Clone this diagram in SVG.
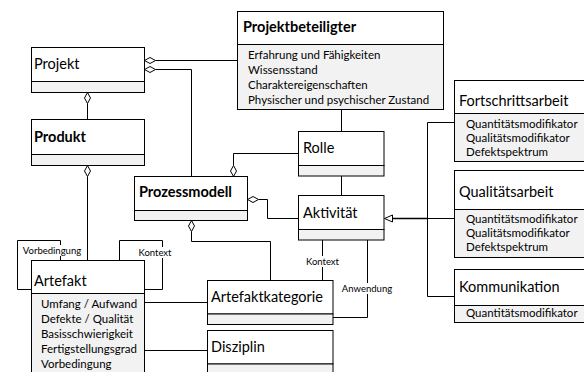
<svg xmlns="http://www.w3.org/2000/svg" width="584" height="372" viewBox="0 0 584 372">
<style>
.hd{fill:#fff;stroke:#000;stroke-width:1}
.at{fill:#f2f2f2;stroke:#000;stroke-width:1}
.t{font-family:Lato,"Liberation Sans",sans-serif;font-size:14.5px;fill:#000}
.b{font-family:Lato,"Liberation Sans",sans-serif;font-size:14.5px;font-weight:bold;fill:#000}
.a{font-family:Lato,"Liberation Sans",sans-serif;font-size:11.5px;fill:#000}
.l{font-family:Lato,"Liberation Sans",sans-serif;font-size:9.5px;fill:#000;text-anchor:middle}
.c{fill:none;stroke:#000;stroke-width:1}
.d{fill:#fff;stroke:#000;stroke-width:1}
.lb{fill:#fff;stroke:none}
</style>
<rect width="584" height="372" fill="#fff"/>
<g id="connectors">
<path class="c" d="M155.5,60.5H237.5"/>
<path class="c" d="M155.5,69.5H191.5V176.5"/>
<path class="c" d="M87.5,103.5V119.5"/>
<path class="c" d="M87.5,176.5V260.5"/>
<path class="c" d="M233.5,165.5V153.5H298.5"/>
<path class="c" d="M258.5,199.5H267.5V218.5H298.5"/>
<path class="c" d="M191.5,231.5V241.5H270.5V280"/>
<path class="c" d="M341.5,109.5V131.5"/>
<path class="c" d="M341.5,176V195.5"/>
<path class="c" d="M322.5,240V280"/>
<path class="c" d="M367.5,240V317.5H333"/>
<path class="c" d="M144.5,302.5H207"/>
<path class="c" d="M144.5,350.5H207"/>
<path class="c" d="M454.5,122.5H427.5V296.5H454.5"/>
<path class="c" d="M454.5,218.5H427.5"/>
<path class="c" style="stroke-width:1.6" d="M427.5,218.5H392"/>
<polygon class="d" points="384.5,218.5 392.5,215 392.5,222"/>
<polygon class="d" points="144.5,60.5 150,57.5 155.5,60.5 150,63.5"/>
<polygon class="d" points="144.5,69.5 150,66.5 155.5,69.5 150,72.5"/>
<polygon class="d" points="87.5,92.5 90.5,98 87.5,103.5 84.5,98"/>
<polygon class="d" points="87.5,165.5 90.5,171 87.5,176.5 84.5,171"/>
<polygon class="d" points="233.5,176.5 236.5,171 233.5,165.5 230.5,171"/>
<polygon class="d" points="247.5,199.5 253,196.5 258.5,199.5 253,202.5"/>
<polygon class="d" points="191.5,220.5 194.5,226 191.5,231.5 188.5,226"/>
<path class="c" d="M60.5,260.5V240.5H17.5V289.5H31.5"/>
<path class="c" d="M144.5,289.5H162.5V240.5H119.5V260.5"/>
<rect class="lb" x="20" y="245" width="64" height="11"/>
<text class="l" x="52" y="254">Vorbedingung</text>
<rect class="lb" x="137" y="247" width="36" height="11"/>
<text class="l" x="155" y="256">Kontext</text>
<rect class="lb" x="304" y="256" width="37" height="11"/>
<text class="l" x="322.5" y="265">Kontext</text>
<rect class="lb" x="340" y="283" width="54" height="11"/>
<text class="l" x="367" y="292">Anwendung</text>
</g>
<g id="projektbeteiligter">
<rect class="hd" x="237.5" y="11.5" width="206" height="33"/>
<rect class="at" x="237.5" y="44.5" width="206" height="65"/>
<text class="b" x="243" y="32">Projektbeteiligter</text>
<text class="a" x="248" y="59">Erfahrung und Fähigkeiten</text>
<text class="a" x="248" y="74">Wissensstand</text>
<text class="a" x="248" y="89">Charaktereigenschaften</text>
<text class="a" x="248" y="104">Physischer und psychischer Zustand</text>
</g>
<g id="projekt">
<rect class="hd" x="31.5" y="47.5" width="113" height="34"/>
<rect class="at" x="31.5" y="81.5" width="113" height="11"/>
<text class="t" x="34" y="69">Projekt</text>
</g>
<g id="produkt">
<rect class="hd" x="31.5" y="119.5" width="113" height="35"/>
<rect class="at" x="31.5" y="154.5" width="113" height="11"/>
<text class="b" x="34" y="142">Produkt</text>
</g>
<g id="prozessmodell">
<rect class="hd" x="134.5" y="176.5" width="113" height="34"/>
<rect class="at" x="134.5" y="210.5" width="113" height="10"/>
<text class="b" x="139" y="197">Prozessmodell</text>
</g>
<g id="rolle">
<rect class="hd" x="298.5" y="131.5" width="85.5" height="34"/>
<rect class="at" x="298.5" y="165.5" width="85.5" height="10.5"/>
<text class="t" x="303" y="153">Rolle</text>
</g>
<g id="aktivitaet">
<rect class="hd" x="298.5" y="195.5" width="85.5" height="34"/>
<rect class="at" x="298.5" y="229.5" width="85.5" height="10.5"/>
<text class="t" x="303" y="218">Aktivität</text>
</g>
<g id="fortschrittsarbeit">
<rect class="hd" x="454.5" y="80.5" width="140" height="33"/>
<rect class="at" x="454.5" y="113.5" width="140" height="48"/>
<text class="t" x="459" y="106">Fortschrittsarbeit</text>
<text class="a" x="466" y="128">Quantitätsmodifikator</text>
<text class="a" x="466" y="142">Qualitätsmodifikator</text>
<text class="a" x="466" y="156">Defektspektrum</text>
</g>
<g id="qualitaetsarbeit">
<rect class="hd" x="454.5" y="170.5" width="140" height="39"/>
<rect class="at" x="454.5" y="209.5" width="140" height="48"/>
<text class="t" x="459" y="197">Qualitätsarbeit</text>
<text class="a" x="466" y="223">Quantitätsmodifikator</text>
<text class="a" x="466" y="237">Qualitätsmodifikator</text>
<text class="a" x="466" y="251">Defektspektrum</text>
</g>
<g id="kommunikation">
<rect class="hd" x="454.5" y="269.5" width="140" height="36"/>
<rect class="at" x="454.5" y="305.5" width="140" height="17"/>
<text class="t" x="459" y="292">Kommunikation</text>
<text class="a" x="466" y="317">Quantitätsmodifikator</text>
</g>
<g id="artefakt">
<rect class="hd" x="31.5" y="260.5" width="113" height="33"/>
<rect class="at" x="31.5" y="293.5" width="113" height="90"/>
<text class="t" x="34" y="286">Artefakt</text>
<text class="a" x="41" y="308">Umfang / Aufwand</text>
<text class="a" x="41" y="323">Defekte / Qualität</text>
<text class="a" x="41" y="338">Basisschwierigkeit</text>
<text class="a" x="41" y="353">Fertigstellungsgrad</text>
<text class="a" x="41" y="368">Vorbedingung</text>
</g>
<g id="artefaktkategorie">
<rect class="hd" x="207.5" y="280.5" width="125.5" height="33.5"/>
<rect class="at" x="207.5" y="314" width="125.5" height="10.5"/>
<text class="t" x="211" y="302">Artefaktkategorie</text>
</g>
<g id="disziplin">
<rect class="hd" x="207.5" y="330.5" width="125.5" height="33.5"/>
<rect class="at" x="207.5" y="364" width="125.5" height="20"/>
<text class="t" x="211" y="352">Disziplin</text>
</g>
</svg>
